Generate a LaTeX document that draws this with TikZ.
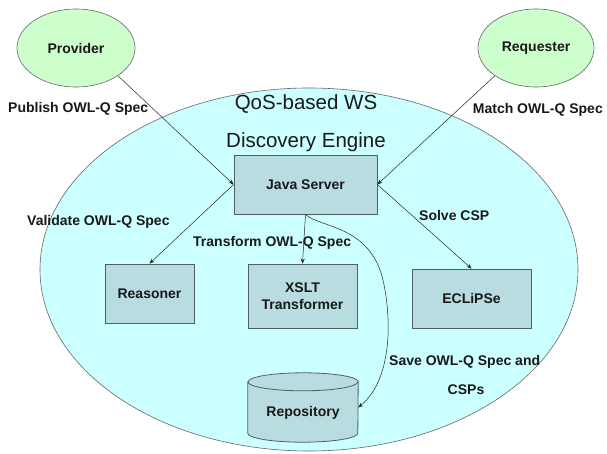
\documentclass[tikz,border=0pt]{standalone}
\usepackage{fontspec}
\setmainfont{Liberation Sans}
\usetikzlibrary{arrows.meta,shapes.geometric}
\definecolor{engfill}{RGB}{204,255,255}
\definecolor{actfill}{RGB}{204,255,204}
\definecolor{boxfill}{RGB}{184,220,224}
\definecolor{edgecol}{RGB}{80,96,96}
\definecolor{txtcol}{RGB}{25,25,25}
\begin{document}
\begin{tikzpicture}[x=1pt,y=-1pt,
  lbl/.style={font=\fontsize{14}{16}\selectfont\bfseries, text=txtcol, inner sep=0},
  boxnode/.style={rectangle, draw=edgecol, fill=boxfill, line width=0.8pt, inner sep=0,
     align=center, font=\fontsize{14}{17}\selectfont\bfseries, text=txtcol},
  actor/.style={ellipse, draw=black!60, fill=actfill, line width=0.6pt, inner sep=0,
     font=\fontsize{14}{16}\selectfont\bfseries, text=txtcol},
  title/.style={font=\fontsize{20.5}{22}\selectfont, text=txtcol, inner sep=0},
  conn/.style={-{Stealth[length=5pt,width=4pt]}, line width=0.5pt, draw=black!85}]
\useasboundingbox (0,0) rectangle (607,454);
\fill[white] (0,0) rectangle (607,454);

% engine container
\node[ellipse, draw=black!60, fill=engfill, line width=0.6pt, minimum width=538, minimum height=363, inner sep=0] (engine) at (309,269.5) {};
\node[title] (t1) at (306,104) {QoS-based WS};
\node[title] (t2) at (306,142) {Discovery Engine};

% actors
\node[actor, minimum width=118, minimum height=78] (prov) at (76,48) {Provider};
\node[actor, minimum width=116, minimum height=78] (req) at (536,48) {Requester};

% boxes
\node[boxnode, minimum width=143, minimum height=59] (js) at (305.5,184.5) {Java Server};
\node[boxnode, minimum width=89, minimum height=59] (reas) at (149.5,293.5) {Reasoner};
\node[boxnode, minimum width=109, minimum height=64] (xslt) at (302.5,296) {XSLT\\Transformer};
\node[boxnode, minimum width=119, minimum height=59] (ecl) at (471.5,298.5) {ECLiPSe};

% repository cylinder
\path (303,407.5) node[minimum width=110, minimum height=69, inner sep=0] (repo) {};
\draw[draw=edgecol, fill=boxfill, line width=0.8pt]
  ([yshift=-9pt]repo.north west) -- ([yshift=9pt]repo.south west)
  arc[start angle=180, end angle=360, x radius=55pt, y radius=9pt]
  -- ([yshift=-9pt]repo.north east)
  arc[start angle=0, end angle=180, x radius=55pt, y radius=9pt] -- cycle;
\draw[draw=edgecol, line width=0.8pt] ([yshift=-9pt]repo.north west)
  arc[start angle=180, end angle=360, x radius=55pt, y radius=9pt];
\node[lbl] (repolbl) at (303,413) {Repository};

% labels
\node[lbl, anchor=west] (lpub) at (8,109) {Publish OWL-Q Spec};
\node[lbl, anchor=east] (lmatch) at (603,110) {Match OWL-Q Spec};
\node[lbl, anchor=west] (lval) at (27,222) {Validate OWL-Q Spec};
\node[lbl, anchor=west] (ltrans) at (193,243) {Transform OWL-Q Spec};
\node[lbl, anchor=west] (lsolve) at (419,215) {Solve CSP};
\node[lbl, anchor=west] (lsave) at (389,362) {Save OWL-Q Spec and};
\node[lbl] (lcsps) at (466,390) {CSPs};

% connectors
\draw[conn] (prov.south east) -- (js.west);
\draw[conn] (req.south west) -- (js.east);
\draw[conn] (js.west) -- (reas.north);
\draw[conn] (js.east) -- (ecl.north);
\draw[conn] (js.south) -- (xslt.north);
\draw[conn] (js.south) .. controls (320,228) and (370,225) .. (383,280)
  .. controls (392,320) and (392,380) .. (repo.east);
\end{tikzpicture}
\end{document}
